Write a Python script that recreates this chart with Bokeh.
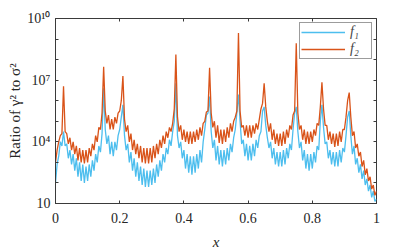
import numpy as np
from bokeh.plotting import figure
from bokeh.models import (FixedTicker, LogAxis, LinearAxis, Legend, LegendItem,
                          CustomJSTickFormatter)
from bokeh.embed import file_html
from bokeh.resources import INLINE

# ---- data (log10 of the ratio) ----
x = np.linspace(0.0, 1.0, 201)

f1_log10 = [
    2.0, 2.9, 3.3, 4.0, 3.8, 4.5, 3.8, 3.9, 3.2, 3.6,
    2.9, 3.4, 2.6, 3.2, 2.3, 3.0, 2.1, 2.9, 2.0, 2.8,
    2.1, 2.9, 2.3, 3.1, 2.6, 3.4, 3.0, 3.8, 3.5, 4.4,
    6.6, 4.6, 3.9, 4.3, 3.4, 4.0, 3.3, 4.0, 3.6, 4.3,
    4.6, 5.2, 5.8, 4.3, 3.6, 3.9, 3.0, 3.5, 2.6, 3.2,
    2.3, 3.0, 2.1, 2.8, 1.9, 2.7, 1.8, 2.6, 1.8, 2.6,
    1.9, 2.7, 2.0, 2.9, 2.3, 3.1, 2.6, 3.4, 3.0, 3.7,
    3.4, 4.1, 3.8, 4.5, 5.0, 6.85, 4.3, 3.7, 4.0, 3.2,
    3.6, 2.7, 3.4, 2.5, 3.3, 2.4, 3.3, 2.5, 3.4, 2.7,
    3.6, 3.0, 4.0, 4.6, 5.3, 5.4, 6.2, 4.5, 3.7, 4.1,
    3.1, 3.8, 2.9, 3.6, 2.8, 3.6, 2.9, 3.7, 3.1, 3.9,
    3.5, 4.2, 4.6, 5.4, 6.3, 5.0, 3.9, 4.1, 3.3, 3.9,
    3.1, 3.8, 3.1, 3.9, 3.3, 4.1, 3.7, 4.3, 4.5, 5.5,
    5.7, 4.8, 4.2, 3.7, 4.0, 3.2, 3.7, 2.9, 3.5, 2.8,
    3.5, 2.8, 3.6, 2.9, 3.7, 3.2, 3.9, 3.6, 4.6, 5.4,
    5.7, 4.5, 3.7, 4.0, 3.1, 3.6, 2.7, 3.4, 2.6, 3.4,
    2.7, 3.5, 3.0, 3.8, 3.6, 5.0, 5.8, 4.7, 3.9, 4.0,
    3.2, 3.6, 2.9, 3.5, 2.8, 3.5, 2.8, 3.6, 3.0, 3.7,
    3.5, 4.3, 5.2, 5.5, 4.3, 3.4, 3.8, 2.9, 3.2, 2.5,
    2.9, 2.2, 2.6, 1.9, 2.2, 1.6, 1.9, 1.3, 1.6, 1.1,
    1.2,
]

f2_log10 = [
    3.0, 3.6, 4.0, 4.3, 4.4, 6.7, 4.5, 4.4, 3.9, 4.2,
    3.6, 4.0, 3.4, 3.8, 3.1, 3.7, 3.0, 3.6, 2.95, 3.6,
    3.0, 3.7, 3.3, 3.9, 3.6, 4.3, 4.0, 4.7, 4.6, 5.4,
    7.65, 5.5, 4.9, 5.3, 4.6, 5.1, 4.6, 5.2, 4.9, 5.4,
    5.5, 6.0, 7.2, 5.1, 4.5, 4.8, 4.0, 4.4, 3.6, 4.1,
    3.4, 3.9, 3.2, 3.8, 3.0, 3.7, 2.95, 3.7, 2.95, 3.7,
    3.0, 3.8, 3.2, 3.9, 3.4, 4.1, 3.7, 4.3, 3.9, 4.5,
    4.2, 4.7, 4.5, 4.9, 5.6, 8.25, 5.2, 4.5, 4.8, 4.1,
    4.6, 4.0, 4.5, 3.9, 4.5, 3.9, 4.5, 4.0, 4.6, 4.1,
    4.7, 4.3, 4.9, 5.0, 5.45, 5.5, 7.6, 5.4, 4.7, 5.0,
    4.2, 4.8, 3.95, 4.6, 3.9, 4.6, 4.0, 4.7, 4.2, 4.9,
    4.5, 5.0, 5.2, 5.5, 9.3, 5.5, 4.7, 4.8, 4.3, 4.8,
    4.2, 4.8, 4.2, 4.8, 4.4, 4.9, 4.6, 5.1, 5.6, 5.87,
    6.85, 5.7, 5.0, 4.5, 4.9, 4.1, 4.6, 3.9, 4.4, 3.8,
    4.4, 3.8, 4.5, 3.9, 4.6, 4.2, 4.8, 4.6, 5.3, 5.5,
    8.8, 5.4, 4.6, 4.8, 4.1, 4.6, 3.9, 4.5, 3.9, 4.5,
    4.0, 4.6, 4.3, 4.9, 4.8, 5.7, 6.9, 5.6, 4.8, 4.8,
    4.1, 4.5, 3.9, 4.4, 3.75, 4.4, 3.8, 4.5, 4.0, 4.6,
    4.6, 5.2, 6.0, 6.4, 5.2, 4.3, 4.5, 3.7, 3.9, 3.3,
    3.5, 2.8, 3.1, 2.4, 2.7, 2.1, 2.3, 1.7, 1.9, 1.4,
    1.6,
]

f1 = [10 ** v for v in f1_log10]
f2 = [10 ** v for v in f2_log10]

x_ticks = [0, 0.2, 0.4, 0.6, 0.8, 1]
x_tick_labels = ["0", "0.2", "0.4", "0.6", "0.8", "1"]
y_ticks = [1e1, 1e4, 1e7, 1e10]
y_tick_labels = ["10", "10\u2074", "10\u2077", "10\u00b9\u2070"]
y_minor = [1e2, 1e3, 1e5, 1e6, 1e8, 1e9]

FONT = "Liberation Serif"
AX = "#3a3a3a"

p = figure(frame_width=321, frame_height=185, x_range=(0, 1), y_range=(10, 1e10),
           y_axis_type="log", output_backend="svg", toolbar_location=None,
           min_border_left=55, min_border_right=38, min_border_top=18,
           min_border_bottom=46)
p.xgrid.visible = False
p.ygrid.visible = False
p.outline_line_color = AX
p.outline_line_width = 1

r1 = p.line(x, f1, color="#4DBEEE", line_width=1.3)
r2 = p.line(x, f2, color="#D95319", line_width=1.3)

xa = p.below[0]
ya = p.left[0]
xa.ticker = FixedTicker(ticks=x_ticks, minor_ticks=[])
xa.major_label_overrides = dict(zip(x_ticks, x_tick_labels))
ya.ticker = FixedTicker(ticks=y_ticks, minor_ticks=y_minor)
ya.major_label_overrides = dict(zip(y_ticks, y_tick_labels))

xa.axis_label = "x"
xa.axis_label_text_font_style = "italic"
ya.axis_label = "Ratio of \u03b3\u00b2 to \u03c3\u00b2"
ya.axis_label_text_font_style = "normal"

for ax in (xa, ya):
    ax.axis_line_color = AX
    ax.major_tick_line_color = AX
    ax.minor_tick_line_color = AX
    ax.major_tick_in = 3
    ax.major_tick_out = 0
    ax.minor_tick_in = 3
    ax.minor_tick_out = 0
    ax.major_label_text_font = FONT
    ax.major_label_text_font_size = "14px"
    ax.major_label_text_color = "#262626"
    ax.axis_label_text_font = FONT
    ax.axis_label_text_font_size = "15px"
    ax.axis_label_text_color = "#262626"

xa.major_label_standoff = 9
xa.axis_label_standoff = 8
ya.major_label_standoff = 5
ya.axis_label_standoff = 1

empty = CustomJSTickFormatter(code="return ''")
ra = LogAxis(ticker=FixedTicker(ticks=y_ticks, minor_ticks=y_minor), formatter=empty)
ta = LinearAxis(ticker=FixedTicker(ticks=x_ticks, minor_ticks=[]), formatter=empty)
for ax in (ra, ta):
    ax.axis_line_color = None
    ax.major_tick_line_color = AX
    ax.minor_tick_line_color = AX
    ax.major_tick_in = 3
    ax.major_tick_out = 0
    ax.minor_tick_in = 3
    ax.minor_tick_out = 0
    ax.major_label_standoff = 0
    ax.major_label_text_font_size = "1px"
p.add_layout(ra, "right")
p.add_layout(ta, "above")

legend = Legend(items=[LegendItem(label="f\u2081", renderers=[r1]),
                       LegendItem(label="f\u2082", renderers=[r2])],
                location="top_right")
legend.border_line_color = AX
legend.border_line_width = 1
legend.background_fill_color = "white"
legend.background_fill_alpha = 1
legend.label_text_font = FONT
legend.label_text_font_style = "italic"
legend.label_text_font_size = "14px"
legend.glyph_width = 44
legend.glyph_height = 16
legend.label_height = 16
legend.spacing = 1
legend.padding = 1
legend.margin = 4
legend.label_standoff = 5
p.add_layout(legend)

open("out.html", "w").write(file_html(p, INLINE))
